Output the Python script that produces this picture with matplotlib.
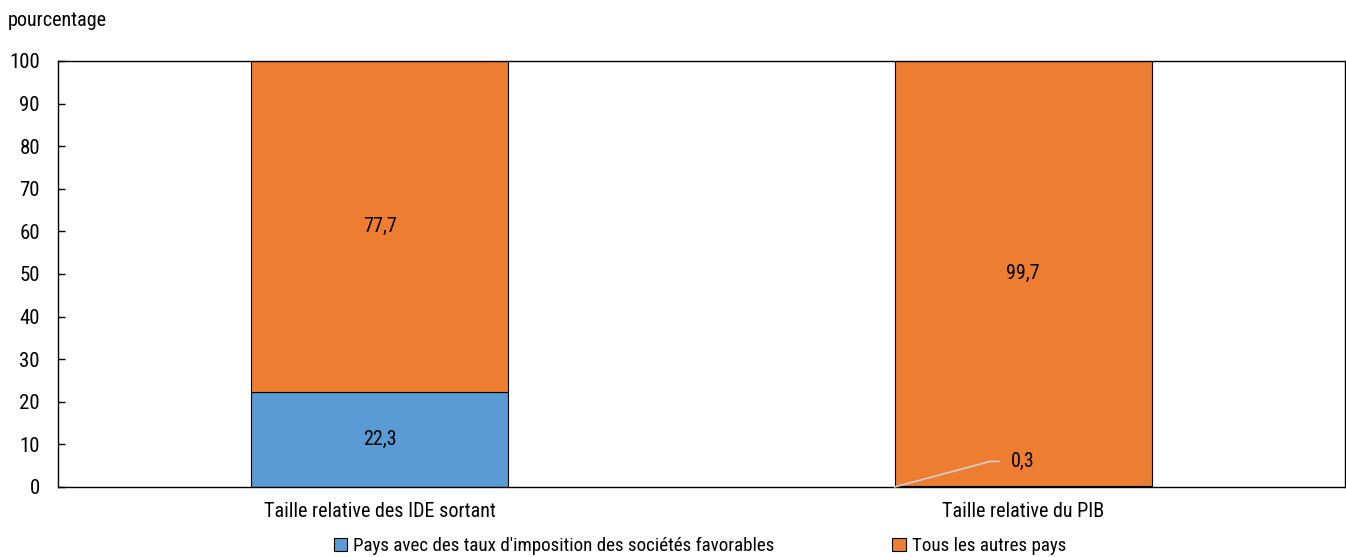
import matplotlib
matplotlib.use("Agg")
import matplotlib.pyplot as plt
import numpy as np

plt.rcParams["font.family"] = ["Roboto Condensed", "DejaVu Sans"]
plt.rcParams["font.size"] = 14

categories = ["Taille relative des IDE sortant", "Taille relative du PIB"]
favorables = [22.3, 0.3]
autres = [77.7, 99.7]
series_names = ["Pays avec des taux d'imposition des sociétés favorables",
                "Tous les autres pays"]
blue = "#5b9bd5"
orange = "#ed7d31"

fig = plt.figure(figsize=(13.46, 5.57), dpi=100)
ax = fig.add_axes([58 / 1346, 1 - 487 / 557, (1345 - 58) / 1346, (487 - 61) / 557])

x = np.arange(len(categories))
b1 = ax.bar(x, favorables, 0.4, color=blue, edgecolor="black", linewidth=0.8)
b2 = ax.bar(x, autres, 0.4, bottom=favorables, color=orange, edgecolor="black", linewidth=0.8)

ax.set_xlim(-0.5, 1.5)
ax.set_ylim(0, 100)
ax.set_yticks(range(0, 101, 10))
ax.tick_params(axis="y", direction="in", length=5, width=1, pad=13, labelsize=15)
ax.tick_params(axis="x", length=0, pad=11, labelsize=14.5)
ax.set_xticks(x)
ax.set_xticklabels(categories)
for s in ax.spines.values():
    s.set_linewidth(1)

def fmt(v):
    return f"{v:.1f}".replace(".", ",")

# value labels in the middle of each segment
for i in range(len(categories)):
    top = favorables[i] + autres[i] / 2
    ax.text(x[i], top, fmt(autres[i]), ha="center", va="center", fontsize=14.5)
    if favorables[i] > 5:
        ax.text(x[i], favorables[i] / 2, fmt(favorables[i]), ha="center", va="center", fontsize=14.5)
    else:
        ax.annotate(fmt(favorables[i]), xy=(x[i] - 0.2, 0), xytext=(x[i] - 0.02, 6),
                    ha="left", va="center", fontsize=14.5,
                    arrowprops=dict(arrowstyle="-", color="#d0d0d0", lw=1.2,
                                    connectionstyle="angle,angleA=0,angleB=15,rad=0",
                                    shrinkA=6, shrinkB=0))

fig.text(8 / 1346, 1 - 20 / 557, "pourcentage", ha="left", va="center", fontsize=14.5)

leg = fig.legend([b1, b2], series_names, loc="center", bbox_to_anchor=(700 / 1346, 1 - 546 / 557),
                 ncol=2, frameon=False, fontsize=13.7, handlelength=0.7, handleheight=0.7,
                 handletextpad=0.3, columnspacing=6.2)

fig.savefig("out.png", dpi=100)
